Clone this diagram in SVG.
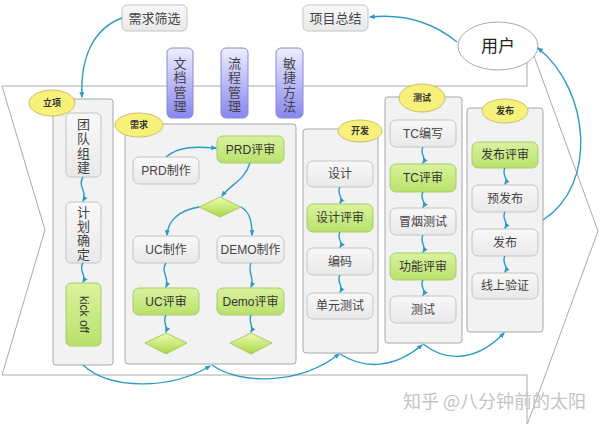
<svg xmlns="http://www.w3.org/2000/svg" width="600" height="424" viewBox="0 0 600 424">
<defs>
<linearGradient id="gGray" x1="0" y1="0" x2="0" y2="1"><stop offset="0" stop-color="#f8f8f8"/><stop offset="1" stop-color="#e9e9e9"/></linearGradient>
<linearGradient id="gGreen" x1="0" y1="0" x2="0" y2="1"><stop offset="0" stop-color="#daf39e"/><stop offset="1" stop-color="#b8e16c"/></linearGradient>
<linearGradient id="gDia" x1="0" y1="0" x2="0" y2="1"><stop offset="0" stop-color="#f0fbb0"/><stop offset="1" stop-color="#a6d84a"/></linearGradient>
<linearGradient id="gPurple" x1="0" y1="0" x2="0" y2="1"><stop offset="0" stop-color="#eeeeff"/><stop offset="1" stop-color="#8686ee"/></linearGradient>
<marker id="ah" viewBox="0 0 10 10" refX="8" refY="5" markerWidth="6" markerHeight="6" orient="auto" markerUnits="userSpaceOnUse"><path d="M0,1 L10,5 L0,9 z" fill="#2a9cc4"/></marker>
<style>
.outline{fill:#fff;stroke:#aaa;stroke-width:1}
.panel{fill:#f2f2f2;stroke:#a8a8a8;stroke-width:1}
.box{fill:url(#gGray);stroke:#c4c4c4;stroke-width:1}
.gbox{fill:url(#gGreen);stroke:#a6cc66;stroke-width:1}
.dia{fill:url(#gDia);stroke:#a6cc66;stroke-width:1}
.pbox{fill:url(#gPurple);stroke:#8a8ad8;stroke-width:1}
.lbl{fill:#f7f07a;stroke:#c8c070;stroke-width:1}
.t{font-family:"Liberation Sans","Noto Sans CJK SC",sans-serif;font-size:12px;fill:#444;text-anchor:middle;dominant-baseline:central}
.tv{font-family:"Liberation Sans","Noto Sans CJK SC",sans-serif;font-size:13px;fill:#444;text-anchor:middle;dominant-baseline:central}
.tl{font-family:"Liberation Sans","Noto Sans CJK SC",sans-serif;font-size:9px;font-weight:bold;fill:#333;text-anchor:middle;dominant-baseline:central}
.c{fill:none;stroke:#2a9cc4;stroke-width:1.4;marker-end:url(#ah)}
</style>
</defs>

<path class="outline" d="M2,86 L527,86 L527,37 L598,231 L527,425 L527,375 L2,375 L45,230 Z"/>

<g id="user"><ellipse cx="498" cy="46" rx="40" ry="24" fill="#fff" stroke="#aaa"/><text class="t" x="498" y="46" style="font-size:17px;fill:#222">用户</text></g>
<g id="xqsx"><rect class="box" x="122" y="5" width="65" height="26" rx="5"/><text class="t" x="154.5" y="18" style="font-size:13px">需求筛选</text></g>
<g id="xmzj"><rect class="box" x="303" y="5" width="65" height="26" rx="5"/><text class="t" x="335.5" y="18" style="font-size:13px">项目总结</text></g>

<g id="wdgl"><rect class="pbox" x="167" y="48" width="26" height="70" rx="5"/><text class="tv"><tspan x="180" y="62.5">文</tspan><tspan x="180" y="77">档</tspan><tspan x="180" y="91.5">管</tspan><tspan x="180" y="106">理</tspan></text></g>
<g id="lcgl"><rect class="pbox" x="221" y="48" width="27" height="70" rx="5"/><text class="tv"><tspan x="234.5" y="62.5">流</tspan><tspan x="234.5" y="77">程</tspan><tspan x="234.5" y="91.5">管</tspan><tspan x="234.5" y="106">理</tspan></text></g>
<g id="mjff"><rect class="pbox" x="276" y="48" width="27" height="70" rx="5"/><text class="tv"><tspan x="289.5" y="62.5">敏</tspan><tspan x="289.5" y="77">捷</tspan><tspan x="289.5" y="91.5">方</tspan><tspan x="289.5" y="106">法</tspan></text></g>

<g id="lixiang">
<rect class="panel" x="53" y="99" width="60" height="266" rx="3"/>
<ellipse class="lbl" cx="52" cy="103" rx="23" ry="13"/><text class="tl" x="52" y="103">立项</text>
<rect class="box" x="66" y="113" width="35" height="64" rx="5"/>
<text class="tv"><tspan x="83.5" y="123.5">团</tspan><tspan x="83.5" y="138">队</tspan><tspan x="83.5" y="152.5">组</tspan><tspan x="83.5" y="167">建</tspan></text>
<rect class="box" x="66" y="202" width="35" height="61" rx="5"/>
<text class="tv"><tspan x="83.5" y="211.5">计</tspan><tspan x="83.5" y="225.5">划</tspan><tspan x="83.5" y="239.5">确</tspan><tspan x="83.5" y="253.5">定</tspan></text>
<rect class="gbox" x="66" y="283" width="35" height="63" rx="5"/>
<text class="t" transform="translate(83.5,314.5) rotate(90)" x="0" y="0" style="fill:#333">kick off</text>
</g>

<g id="xuqiu">
<rect class="panel" x="125" y="124" width="171" height="240" rx="3"/>
<ellipse class="lbl" cx="139" cy="125" rx="24" ry="12"/><text class="tl" x="139" y="125">需求</text>
<rect class="box" x="133" y="157" width="66" height="27" rx="6"/><text class="t" x="166" y="170.5">PRD制作</text>
<rect class="gbox" x="217" y="136" width="67" height="27" rx="6"/><text class="t" x="250.5" y="149.5" style="fill:#333">PRD评审</text>
<path class="dia" d="M199,207 L220,197 L241,207 L220,217 Z"/>
<rect class="box" x="133" y="236" width="66" height="27" rx="6"/><text class="t" x="166" y="249.5">UC制作</text>
<rect class="box" x="217" y="236" width="67" height="27" rx="6"/><text class="t" x="250.5" y="249.5">DEMO制作</text>
<rect class="gbox" x="133" y="288" width="66" height="27" rx="6"/><text class="t" x="166" y="301.5" style="fill:#333">UC评审</text>
<rect class="gbox" x="217" y="288" width="67" height="27" rx="6"/><text class="t" x="250.5" y="301.5" style="fill:#333">Demo评审</text>
<path class="dia" d="M145,343 L166,333 L187,343 L166,354 Z"/>
<path class="dia" d="M230,343 L251,333 L272,343 L251,354 Z"/>
</g>

<g id="kaifa">
<rect class="panel" x="303" y="129" width="75" height="224" rx="3"/>
<ellipse class="lbl" cx="360" cy="131" rx="22" ry="11"/><text class="tl" x="360" y="131">开发</text>
<rect class="box" x="307" y="161" width="66" height="26" rx="6"/><text class="t" x="340" y="174">设计</text>
<rect class="gbox" x="307" y="204" width="66" height="28" rx="6"/><text class="t" x="340" y="218" style="fill:#333">设计评审</text>
<rect class="box" x="307" y="248" width="66" height="27" rx="6"/><text class="t" x="340" y="261.5">编码</text>
<rect class="box" x="307" y="293" width="66" height="26" rx="6"/><text class="t" x="340" y="306">单元测试</text>
</g>

<g id="ceshi">
<rect class="panel" x="385" y="97" width="77" height="246" rx="3"/>
<ellipse class="lbl" cx="422" cy="98" rx="23" ry="14"/><text class="tl" x="422" y="98">测试</text>
<rect class="box" x="390" y="120" width="66" height="27" rx="6"/><text class="t" x="423" y="133.5">TC编写</text>
<rect class="gbox" x="390" y="164" width="66" height="28" rx="6"/><text class="t" x="423" y="178" style="fill:#333">TC评审</text>
<rect class="box" x="390" y="208" width="66" height="27" rx="6"/><text class="t" x="423" y="221.5">冒烟测试</text>
<rect class="gbox" x="390" y="253" width="66" height="27" rx="6"/><text class="t" x="423" y="266.5" style="fill:#333">功能评审</text>
<rect class="box" x="390" y="296" width="66" height="27" rx="6"/><text class="t" x="423" y="309.5">测试</text>
</g>

<g id="fabu">
<rect class="panel" x="467" y="108" width="76" height="224" rx="3"/>
<ellipse class="lbl" cx="505" cy="111" rx="23" ry="12"/><text class="tl" x="505" y="111">发布</text>
<rect class="gbox" x="472" y="142" width="66" height="26" rx="6"/><text class="t" x="505" y="155" style="fill:#333">发布评审</text>
<rect class="box" x="472" y="185" width="66" height="27" rx="6"/><text class="t" x="505" y="198.5">预发布</text>
<rect class="box" x="472" y="229" width="66" height="27" rx="6"/><text class="t" x="505" y="242.5">发布</text>
<rect class="box" x="472" y="273" width="66" height="26" rx="6"/><text class="t" x="505" y="286">线上验证</text>
</g>

<g id="connectors">
<path class="c" d="M122,18 C95,28 80,55 82,97"/>
<path class="c" d="M457,42 C430,20 400,14 370,17"/>
<path class="c" d="M543,220 C598,185 590,90 538,48"/>
<path class="c" d="M83,177 C77,186 88,192 83,201"/>
<path class="c" d="M83,263 C78,270 87,276 83,282"/>
<path class="c" d="M166,157 C180,145 200,147 216,148"/>
<path class="c" d="M250,163 C245,180 230,185 222,196"/>
<path class="c" d="M199,207 C180,210 168,220 167,235"/>
<path class="c" d="M241,207 C250,212 252,222 252,235"/>
<path class="c" d="M166,263 C160,272 170,278 166,287"/>
<path class="c" d="M166,315 C162,322 168,327 166,332"/>
<path class="c" d="M251,263 C247,272 255,278 251,287"/>
<path class="c" d="M251,315 C248,322 254,327 251,332"/>
<path class="c" d="M340,187 C336,194 344,197 340,203"/>
<path class="c" d="M340,232 C336,239 344,242 340,247"/>
<path class="c" d="M340,275 C336,282 344,286 340,292"/>
<path class="c" d="M423,147 C419,154 427,157 423,163"/>
<path class="c" d="M423,192 C419,199 427,202 423,207"/>
<path class="c" d="M423,235 C419,242 427,246 423,252"/>
<path class="c" d="M423,280 C419,287 427,290 423,295"/>
<path class="c" d="M505,168 C501,175 509,178 505,184"/>
<path class="c" d="M505,212 C501,219 509,222 505,228"/>
<path class="c" d="M505,256 C501,263 509,266 505,272"/>
<path class="c" d="M83,365 C110,390 170,390 210,366"/>
<path class="c" d="M212,365 C240,385 300,385 339,354"/>
<path class="c" d="M340,354 C365,370 395,368 422,345"/>
<path class="c" d="M423,344 C450,365 480,358 504,333"/>
</g>

<text x="403" y="408" style="font-family:'Noto Sans CJK SC','Liberation Sans',sans-serif;font-size:18px;fill:#c4c4c4">知乎 @八分钟前的太阳</text>
</svg>
